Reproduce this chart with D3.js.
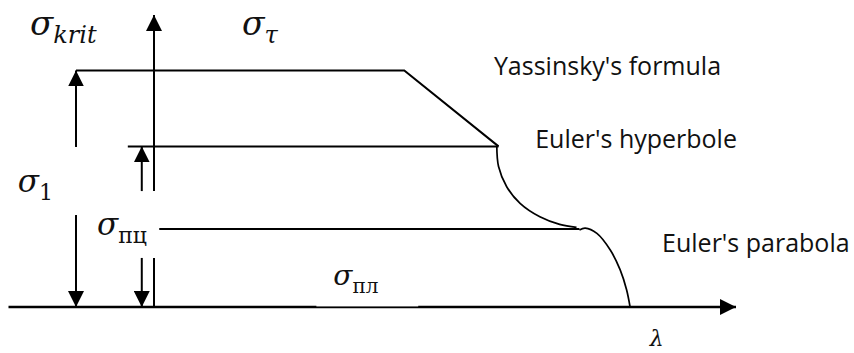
<!DOCTYPE html>
<html>
<head>
<meta charset="utf-8">
<script src="https://cdn.jsdelivr.net/npm/d3@7"></script>
<style>
  body { margin: 0; background: #fff; }
  .math { font-family: "DejaVu Serif", serif; font-style: italic; fill: #111; }
  .sub { font-family: "DejaVu Serif", serif; fill: #111; }
  .name { font-family: "Open Sans", Lato, sans-serif; fill: #111; }
</style>
</head>
<body>
<div class="chart"></div>
<script>
// Données (λ en abscisse, σ en ordonnée, unités arbitraires 0..100)
const xAxisRange = [-25, 100]
const yAxisSegments = [[0, 16.8], [39.7, 100]]

// Palier + droite de Yassinsky
const yassinsky = [[-13.4, 81], [43, 81], [59.2, 55]]
// Lignes horizontales σ1 et σпц
const sigma1Line = [[-4.5, 55], [59.2, 55]]
const sigmaPcLine = [[0.9, 26.7], [73.1, 26.7]]

// Hyperbole d'Euler
const hyperbole = [[58.9, 55.1], [59.2, 48.1], [60.6, 41.2], [62.9, 35.5], [66.3, 30.9], [69.7, 28.3], [72.6, 27.3]]
// Parabole d'Euler
const parabola = [[73.1, 26.4], [74.1, 27.0], [76.1, 25.2], [78.4, 19.5], [80.1, 12.7], [81.2, 5.9], [81.8, 0]]

// Flèches de cote (position λ, segments en σ)
const dimArrows = [
    { l: -13.4, segs: [[0, 31.5], [54.8, 81]] },
    { l: -2.1, segs: [[0, 16.8], [39.7, 55]] }
]

// Textes
const curveNames = [
    { text: "Yassinsky's formula", l: 58.4, s: 79.5 },
    { text: "Euler's hyperbole", l: 65.5, s: 54.5 },
    { text: "Euler's parabola", l: 87.3, s: 18.8 }
]
const sigmaLabels = [
    { main: 'σ', sub: 'krit', subItalic: true, l: -21.3, s: 93.2, size: 34 },
    { main: 'σ', sub: 'τ', subItalic: true, l: 15.1, s: 93.2, size: 33 },
    { main: 'σ', sub: '1', subItalic: false, l: -23.4, s: 39.4, size: 31 },
    { main: 'σ', sub: 'пц', subItalic: false, l: -9.8, s: 24.6, size: 31 },
    { main: 'σ', sub: 'пл', subItalic: false, l: 30.8, s: 7.5, size: 28 }
]
const lambdaLabel = { text: 'λ', l: 85.2, s: -13.4 }

const width = 854,
    height = 353

const svg = d3.select('.chart')
    .append('svg')
    .attr('width', width)
    .attr('height', height)
    .style('display', 'block')

const x = d3.scaleLinear().domain([0, 100]).range([154, 736])
const y = d3.scaleLinear().domain([0, 100]).range([307, 15])

// Pointe de flèche
svg.append('defs').append('marker')
    .attr('id', 'arrow')
    .attr('viewBox', '0 0 16 16')
    .attr('refX', 16)
    .attr('refY', 8)
    .attr('markerWidth', 16)
    .attr('markerHeight', 16)
    .attr('markerUnits', 'userSpaceOnUse')
    .attr('orient', 'auto')
    .append('path')
    .attr('d', 'M0,0 L16,8 L0,16 Z')
    .attr('fill', '#000')

const line = d3.line().x(d => x(d[0])).y(d => y(d[1]))
const curve = d3.line().x(d => x(d[0])).y(d => y(d[1])).curve(d3.curveCatmullRom)

// Axe λ
svg.append('line')
    .attr('x1', x(xAxisRange[0])).attr('x2', x(xAxisRange[1]))
    .attr('y1', y(0)).attr('y2', y(0))
    .attr('stroke', '#000').attr('stroke-width', 2.5)
    .attr('marker-end', 'url(#arrow)')

// Axe σ (interrompu par l'étiquette σпц)
yAxisSegments.forEach((seg, i) => {
    svg.append('line')
        .attr('x1', x(0)).attr('x2', x(0))
        .attr('y1', y(seg[0])).attr('y2', y(seg[1]))
        .attr('stroke', '#000').attr('stroke-width', 2)
        .attr('marker-end', i === yAxisSegments.length - 1 ? 'url(#arrow)' : null)
})

// Flèches de cote
dimArrows.forEach(a => {
    const [low, high] = a.segs
    svg.append('line')
        .attr('x1', x(a.l)).attr('x2', x(a.l))
        .attr('y1', y(low[1])).attr('y2', y(low[0]))
        .attr('stroke', '#000').attr('stroke-width', 2)
        .attr('marker-end', 'url(#arrow)')
    svg.append('line')
        .attr('x1', x(a.l)).attr('x2', x(a.l))
        .attr('y1', y(high[0])).attr('y2', y(high[1]))
        .attr('stroke', '#000').attr('stroke-width', 2)
        .attr('marker-end', 'url(#arrow)')
})

// Courbes
svg.append('path').datum(yassinsky).attr('d', line)
    .attr('fill', 'none').attr('stroke', '#000').attr('stroke-width', 2)
svg.append('path').datum(sigma1Line).attr('d', line)
    .attr('fill', 'none').attr('stroke', '#000').attr('stroke-width', 2)
svg.append('path').datum(sigmaPcLine).attr('d', line)
    .attr('fill', 'none').attr('stroke', '#000').attr('stroke-width', 2)
svg.append('path').datum(hyperbole).attr('d', curve)
    .attr('fill', 'none').attr('stroke', '#000').attr('stroke-width', 1.7)
svg.append('path').datum(parabola).attr('d', curve)
    .attr('fill', 'none').attr('stroke', '#000').attr('stroke-width', 1.7)

// Cache blanc de l'étiquette σпл sur l'axe
svg.append('rect')
    .attr('x', x(27.9)).attr('y', y(6))
    .attr('width', x(45.4) - x(27.9)).attr('height', y(0.2) - y(6))
    .attr('fill', '#fff')

// Noms des courbes
svg.selectAll('.name')
    .data(curveNames)
    .join('text')
    .attr('class', 'name')
    .attr('x', d => x(d.l))
    .attr('y', d => y(d.s))
    .style('font-size', '25px')
    .text(d => d.text)

// Étiquettes σ
sigmaLabels.forEach(d => {
    const t = svg.append('text')
        .attr('x', x(d.l))
        .attr('y', y(d.s))
    t.append('tspan')
        .attr('class', 'math')
        .style('font-size', d.size + 'px')
        .text(d.main)
    t.append('tspan')
        .attr('class', d.subItalic ? 'math' : 'sub')
        .attr('dy', 8)
        .style('font-size', Math.round(d.size * 0.72) + 'px')
        .text(d.sub)
})

svg.append('text')
    .attr('class', 'math')
    .attr('x', x(lambdaLabel.l))
    .attr('y', y(lambdaLabel.s))
    .style('font-size', '22px')
    .text(lambdaLabel.text)
</script>
</body>
</html>
